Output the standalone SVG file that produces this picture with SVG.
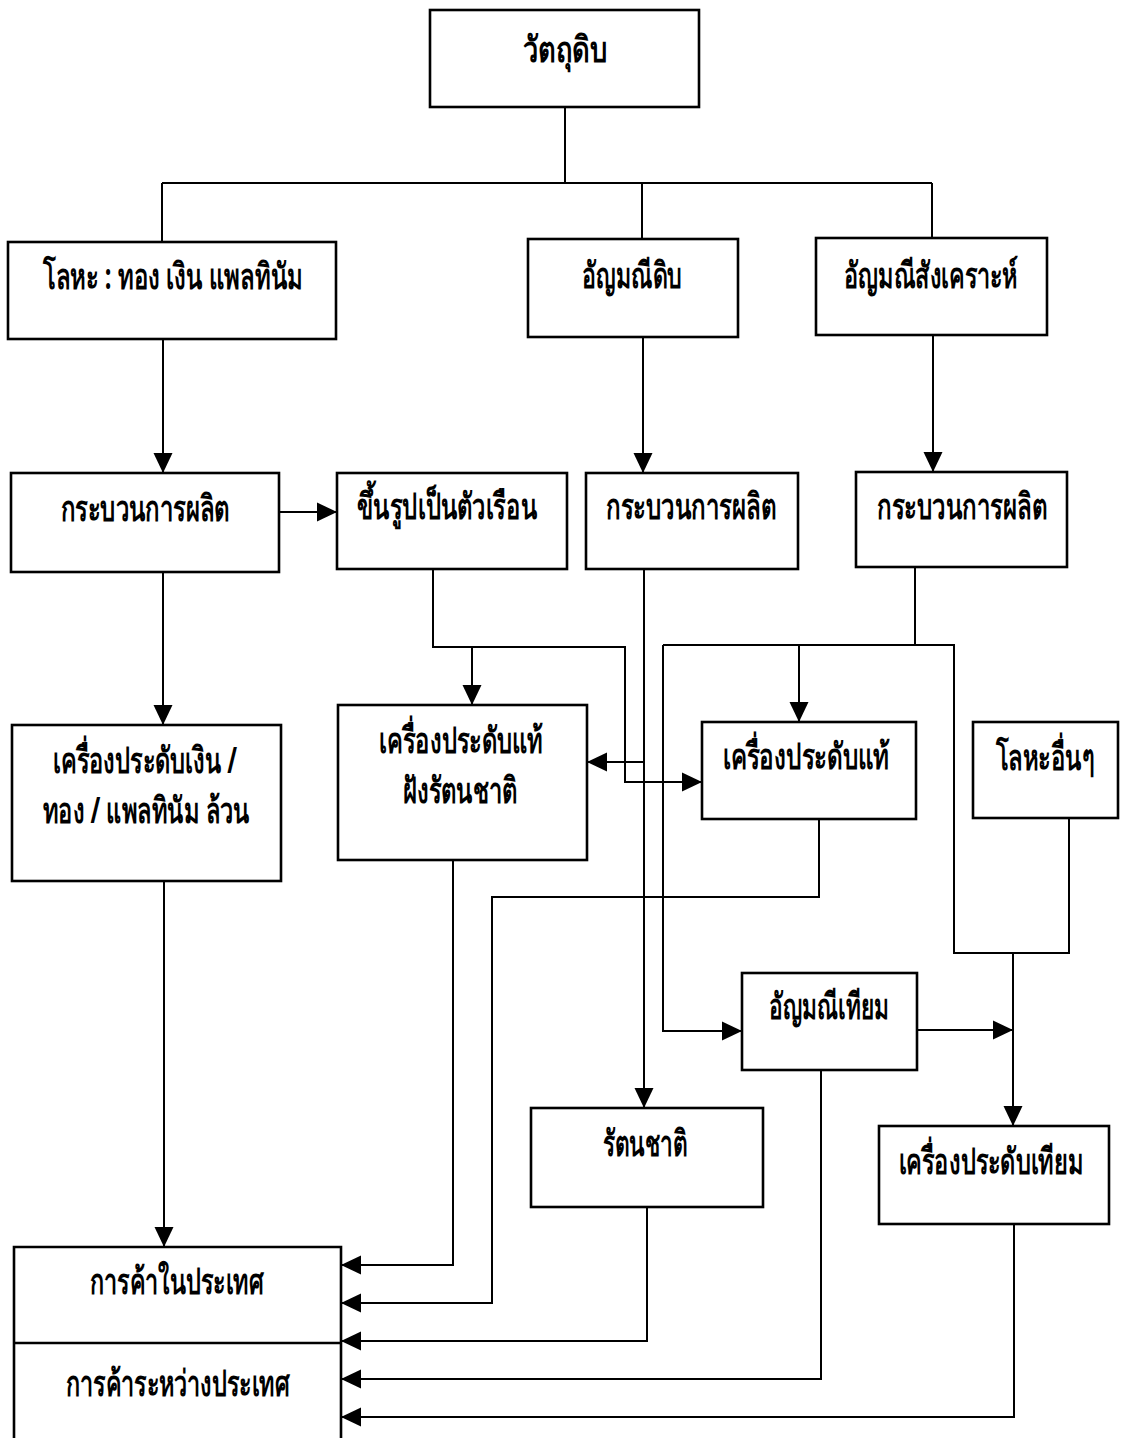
<svg xmlns="http://www.w3.org/2000/svg" width="1124" height="1438" viewBox="0 0 1124 1438">
  <style>
    .box { fill: #ffffff; stroke: #000000; stroke-width: 2.6; }
    .lbl { font-family: "Noto Sans", "DejaVu Sans", sans-serif; font-size: 36px; font-weight: bold; fill: #000000; text-anchor: middle; }
    .wire { fill: none; stroke: #000000; stroke-width: 2; }
    .arr { fill: none; stroke: #000000; stroke-width: 2; marker-end: url(#head); }
  </style>
  <defs>
    <marker id="head" viewBox="0 0 20 20" refX="20" refY="10" markerWidth="20" markerHeight="20" markerUnits="userSpaceOnUse" orient="auto">
      <path d="M0,0.5 L20,10 L0,19.5 Z" fill="#000000"/>
    </marker>
  </defs>
  <rect width="1124" height="1438" fill="#ffffff"/>

  <!-- connectors -->
  <g id="connectors">
    <!-- raw material tree -->
    <path class="wire" d="M565,107 V183 M162,183 H932 M162,183 V242 M642,183 V239 M932,183 V238"/>
    <path class="arr" d="M163,339 V473"/>
    <path class="arr" d="M643,337 V473"/>
    <path class="arr" d="M933,335 V472"/>
    <!-- metal process -->
    <path class="arr" d="M279,512 H337"/>
    <path class="arr" d="M163,572 V725"/>
    <!-- casting -->
    <path class="arr" d="M433,569 V647 H625 V782 H702"/>
    <path class="arr" d="M472,647 V705"/>
    <!-- natural gem process -->
    <path class="arr" d="M644,569 V1108"/>
    <path class="arr" d="M644,762 H587"/>
    <!-- synthetic gem process -->
    <path class="wire" d="M915,567 V645 M663,645 H954 V953 H1069 V818"/>
    <path class="arr" d="M799,645 V722"/>
    <path class="arr" d="M663,645 V1031 H742"/>
    <path class="arr" d="M1013,953 V1126"/>
    <path class="arr" d="M917,1030 H1013"/>
    <!-- to trade -->
    <path class="arr" d="M164,881 V1247"/>
    <path class="arr" d="M453,860 V1265 H341"/>
    <path class="arr" d="M819,819 V897 H492 V1303 H341"/>
    <path class="arr" d="M647,1207 V1341 H341"/>
    <path class="arr" d="M821,1070 V1379 H341"/>
    <path class="arr" d="M1014,1224 V1417 H341"/>
  </g>

  <!-- nodes -->
  <g id="raw">
    <rect class="box" x="430" y="10" width="269" height="97"/>
    <text class="lbl" x="565" y="62" textLength="84" lengthAdjust="spacingAndGlyphs">วัตถุดิบ</text>
  </g>
  <g id="metal">
    <rect class="box" x="8" y="242" width="328" height="97"/>
    <text class="lbl" x="173" y="289" textLength="260" lengthAdjust="spacingAndGlyphs">โลหะ : ทอง เงิน แพลทินัม</text>
  </g>
  <g id="rawgem">
    <rect class="box" x="528" y="239" width="210" height="98"/>
    <text class="lbl" x="632" y="288" textLength="100" lengthAdjust="spacingAndGlyphs">อัญมณีดิบ</text>
  </g>
  <g id="syngem">
    <rect class="box" x="816" y="238" width="231" height="97"/>
    <text class="lbl" x="931" y="288" textLength="174" lengthAdjust="spacingAndGlyphs">อัญมณีสังเคราะห์</text>
  </g>
  <g id="process-metal">
    <rect class="box" x="11" y="473" width="268" height="99"/>
    <text class="lbl" x="145" y="521" textLength="169" lengthAdjust="spacingAndGlyphs">กระบวนการผลิต</text>
  </g>
  <g id="casting">
    <rect class="box" x="337" y="473" width="230" height="96"/>
    <text class="lbl" x="447" y="519" textLength="180" lengthAdjust="spacingAndGlyphs">ขึ้นรูปเป็นตัวเรือน</text>
  </g>
  <g id="process-gem">
    <rect class="box" x="586" y="473" width="212" height="96"/>
    <text class="lbl" x="691" y="519" textLength="170" lengthAdjust="spacingAndGlyphs">กระบวนการผลิต</text>
  </g>
  <g id="process-syn">
    <rect class="box" x="856" y="472" width="211" height="95"/>
    <text class="lbl" x="962" y="519" textLength="170" lengthAdjust="spacingAndGlyphs">กระบวนการผลิต</text>
  </g>
  <g id="solid-metal">
    <rect class="box" x="12" y="725" width="269" height="156"/>
    <text class="lbl" x="145" y="773" textLength="184" lengthAdjust="spacingAndGlyphs">เครื่องประดับเงิน /</text>
    <text class="lbl" x="146" y="823" textLength="207" lengthAdjust="spacingAndGlyphs">ทอง / แพลทินัม ล้วน</text>
  </g>
  <g id="set-jewelry">
    <rect class="box" x="338" y="705" width="249" height="155"/>
    <text class="lbl" x="461" y="753" textLength="164" lengthAdjust="spacingAndGlyphs">เครื่องประดับแท้</text>
    <text class="lbl" x="460" y="803" textLength="114" lengthAdjust="spacingAndGlyphs">ฝังรัตนชาติ</text>
  </g>
  <g id="fine-jewelry">
    <rect class="box" x="702" y="722" width="214" height="97"/>
    <text class="lbl" x="806" y="769" textLength="167" lengthAdjust="spacingAndGlyphs">เครื่องประดับแท้</text>
  </g>
  <g id="other-metal">
    <rect class="box" x="973" y="722" width="145" height="96"/>
    <text class="lbl" x="1045" y="770" textLength="99" lengthAdjust="spacingAndGlyphs">โลหะอื่นๆ</text>
  </g>
  <g id="imitation-gem">
    <rect class="box" x="742" y="973" width="175" height="97"/>
    <text class="lbl" x="829" y="1019" textLength="120" lengthAdjust="spacingAndGlyphs">อัญมณีเทียม</text>
  </g>
  <g id="gemstone">
    <rect class="box" x="531" y="1108" width="232" height="99"/>
    <text class="lbl" x="645" y="1156" textLength="84" lengthAdjust="spacingAndGlyphs">รัตนชาติ</text>
  </g>
  <g id="costume-jewelry">
    <rect class="box" x="879" y="1126" width="230" height="98"/>
    <text class="lbl" x="991" y="1174" textLength="185" lengthAdjust="spacingAndGlyphs">เครื่องประดับเทียม</text>
  </g>
  <g id="trade">
    <path class="box" d="M14,1445 V1247 H341 V1445"/>
    <line x1="14" y1="1343" x2="341" y2="1343" stroke="#000000" stroke-width="2.6"/>
    <text class="lbl" x="177" y="1294" textLength="174" lengthAdjust="spacingAndGlyphs">การค้าในประเทศ</text>
    <text class="lbl" x="178" y="1396" textLength="224" lengthAdjust="spacingAndGlyphs">การค้าระหว่างประเทศ</text>
  </g>
</svg>
